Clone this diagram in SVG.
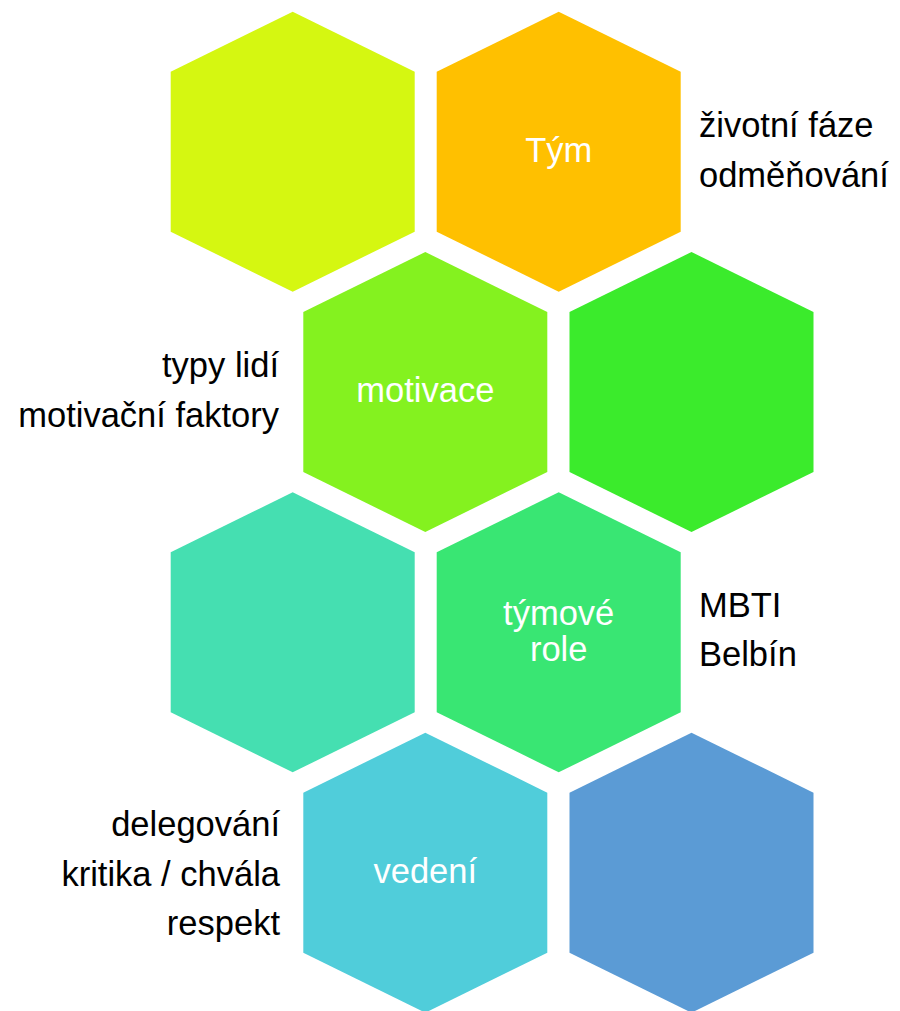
<svg xmlns="http://www.w3.org/2000/svg" xmlns:xlink="http://www.w3.org/1999/xlink" width="900" height="1011" viewBox="0 0 900 1011">
<style>
  .lbl { font-family: "Liberation Sans", Arial, sans-serif; font-size: 34.5px; fill: #FFFFFF; text-anchor: middle; }
  .side { font-family: "Liberation Sans", Arial, sans-serif; font-size: 34.5px; fill: #000000; }
  .end { text-anchor: end; }
</style>
<defs>
  <polygon id="hex" points="0,0 122,60 122,220 0,280 -122,220 -122,60"/>
</defs>
<rect x="0" y="0" width="900" height="1011" fill="#FFFFFF"/>
<g id="connectors"></g>
<g id="hex1"><use xlink:href="#hex" href="#hex" transform="translate(292.7,11.7)" fill="#D5F711"/></g>
<g id="hex-tym">
  <use xlink:href="#hex" href="#hex" transform="translate(558.7,11.7)" fill="#FFC000"/>
  <text class="lbl" x="558.7" y="161.7">Tým</text>
</g>
<g id="hex-motivace">
  <use xlink:href="#hex" href="#hex" transform="translate(425.3,252)" fill="#84F21F"/>
  <text class="lbl" x="425.3" y="401.7">motivace</text>
</g>
<g id="hex4"><use xlink:href="#hex" href="#hex" transform="translate(691.5,252)" fill="#3BEB2C"/></g>
<g id="hex5"><use xlink:href="#hex" href="#hex" transform="translate(292.7,492.3)" fill="#45DFB1"/></g>
<g id="hex-tymove-role">
  <use xlink:href="#hex" href="#hex" transform="translate(558.7,492.3)" fill="#39E673"/>
  <text class="lbl" x="558.7" y="625">týmové</text>
  <text class="lbl" x="558.7" y="661">role</text>
</g>
<g id="hex-vedeni">
  <use xlink:href="#hex" href="#hex" transform="translate(425.3,732.7)" fill="#50CDDA"/>
  <text class="lbl" x="425.3" y="883.3">vedení</text>
</g>
<g id="hex8"><use xlink:href="#hex" href="#hex" transform="translate(691.5,732.7)" fill="#5B9BD5"/></g>
<g id="note-tym">
  <text class="side" x="699" y="136.7">životní fáze</text>
  <text class="side" x="699" y="186.7">odměňování</text>
</g>
<g id="note-motivace">
  <text class="side end" x="279" y="376.7">typy lidí</text>
  <text class="side end" x="279" y="427.3">motivační faktory</text>
</g>
<g id="note-role">
  <text class="side" x="699" y="616.7">MBTI</text>
  <text class="side" x="699" y="665.5">Belbín</text>
</g>
<g id="note-vedeni">
  <text class="side end" x="280" y="836">delegování</text>
  <text class="side end" x="280" y="885.5">kritika / chvála</text>
  <text class="side end" x="280" y="934.5">respekt</text>
</g>
</svg>
